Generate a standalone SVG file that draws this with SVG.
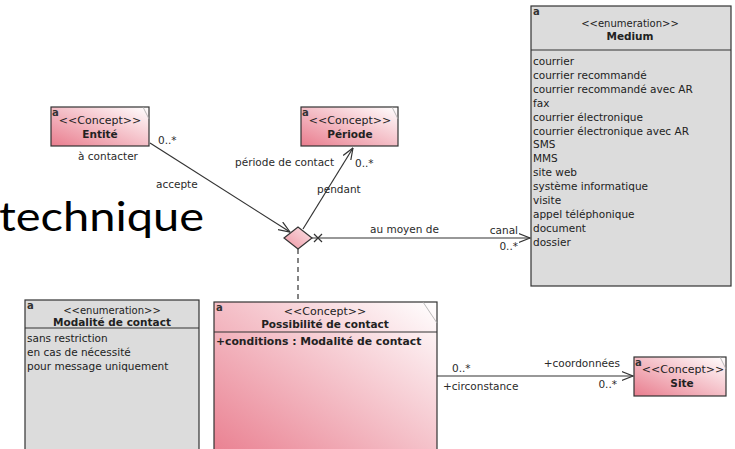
<svg xmlns="http://www.w3.org/2000/svg" width="735" height="449" viewBox="0 0 735 449">
  <defs>
    <linearGradient id="concept" x1="0" y1="1" x2="1" y2="0">
      <stop offset="0" stop-color="#e97d8e"/>
      <stop offset="1" stop-color="#ffffff"/>
    </linearGradient>
    <linearGradient id="diamondFill" x1="0" y1="1" x2="1" y2="0">
      <stop offset="0" stop-color="#ee95a2"/>
      <stop offset="1" stop-color="#fbe3e7"/>
    </linearGradient>
    <marker id="open" viewBox="0 0 12 10" refX="11.5" refY="5" markerWidth="12" markerHeight="10" markerUnits="userSpaceOnUse" orient="auto">
      <path d="M0,0.5 L11.5,5 L0,9.5" fill="none" stroke="#333" stroke-width="1.2"/>
    </marker>
    <style>
      text { font-family: "DejaVu Sans", "Liberation Sans", sans-serif; fill: #222; }
      .box { stroke: #333; stroke-width: 1.2; }
      .concept { fill: url(#concept); }
      .enum { fill: #dcdcdc; }
      .fold { stroke: #aaa; stroke-width: 0.8; fill: none; }
      .sep { stroke: #333; stroke-width: 1.2; }
      .icon { font-size: 10px; font-weight: bold; fill: #333; }
      .stereo { font-size: 11px; text-anchor: middle; }
      .stereoE { font-size: 10px; text-anchor: middle; }
      .name { font-size: 10.5px; font-weight: bold; text-anchor: middle; }
      .item { font-size: 10.5px; }
      .attr { font-size: 10.8px; font-weight: bold; }
      .lbl { font-size: 10.5px; fill: #2a2a2a; }
      .mid { text-anchor: middle; }
      .end { text-anchor: end; }
      .conn { stroke: #333; stroke-width: 1.2; fill: none; }
      .slide { font-family: Lato, "Open Sans", sans-serif; font-size: 40px; fill: #000; }
    </style>
  </defs>

  <rect width="735" height="449" fill="#ffffff"/>

  <!-- slide text behind the model -->
  <text class="slide" x="-1" y="231" textLength="205" lengthAdjust="spacingAndGlyphs">technique</text>

  <!-- connectors -->
  <g id="connectors">
    <line class="conn" x1="150" y1="143" x2="290" y2="232" marker-end="url(#open)"/>
    <line class="conn" x1="303" y1="229" x2="353" y2="148" marker-end="url(#open)"/>
    <line class="conn" x1="312" y1="238" x2="530" y2="238" marker-end="url(#open)"/>
    <path class="conn" d="M314,234 L322,242 M314,242 L322,234"/>
    <line class="conn" x1="298" y1="249" x2="298" y2="302" stroke-dasharray="5,4"/>
    <line class="conn" x1="437" y1="376" x2="633" y2="376" marker-end="url(#open)"/>

    <text class="lbl mid" x="108" y="160">à contacter</text>
    <text class="lbl" x="158" y="144">0..*</text>
    <text class="lbl" x="156" y="188">accepte</text>
    <text class="lbl" x="235" y="166">période de contact</text>
    <text class="lbl" x="355" y="167">0..*</text>
    <text class="lbl" x="317" y="193">pendant</text>
    <text class="lbl" x="370" y="233">au moyen de</text>
    <text class="lbl end" x="518" y="234">canal</text>
    <text class="lbl end" x="518" y="250">0..*</text>
    <text class="lbl" x="452" y="372">0..*</text>
    <text class="lbl" x="443" y="390">+circonstance</text>
    <text class="lbl end" x="620" y="367">+coordonnées</text>
    <text class="lbl end" x="617" y="388">0..*</text>
  </g>

  <!-- association diamond -->
  <g id="association">
    <polygon points="284,238 298,227 312,238 298,249" fill="url(#diamondFill)" stroke="#333" stroke-width="1.2"/>
  </g>

  <g id="entite">
    <rect class="box concept" x="51" y="107" width="98" height="39"/>
    <line class="fold" x1="143" y1="107" x2="149" y2="119"/>
    <text class="icon" x="52" y="116">a</text>
    <text class="stereo" x="100" y="124">&lt;&lt;Concept&gt;&gt;</text>
    <text class="name" x="100" y="138">Entité</text>
  </g>

  <g id="periode">
    <rect class="box concept" x="301" y="107" width="97" height="39"/>
    <line class="fold" x1="392" y1="107" x2="398" y2="119"/>
    <text class="icon" x="302" y="116">a</text>
    <text class="stereo" x="350" y="124">&lt;&lt;Concept&gt;&gt;</text>
    <text class="name" x="350" y="138">Période</text>
  </g>

  <g id="medium">
    <rect class="box enum" x="531" y="6" width="200" height="280"/>
    <line class="sep" x1="531" y1="50" x2="731" y2="50"/>
    <text class="icon" x="533" y="15">a</text>
    <text class="stereoE" x="630" y="27">&lt;&lt;enumeration&gt;&gt;</text>
    <text class="name" x="630" y="40">Medium</text>
    <text class="item" x="533" y="65">courrier</text>
    <text class="item" x="533" y="78.9">courrier recommandé</text>
    <text class="item" x="533" y="92.8">courrier recommandé avec AR</text>
    <text class="item" x="533" y="106.7">fax</text>
    <text class="item" x="533" y="120.6">courrier électronique</text>
    <text class="item" x="533" y="134.5">courrier électronique avec AR</text>
    <text class="item" x="533" y="148.4">SMS</text>
    <text class="item" x="533" y="162.3">MMS</text>
    <text class="item" x="533" y="176.2">site web</text>
    <text class="item" x="533" y="190.1">système informatique</text>
    <text class="item" x="533" y="204">visite</text>
    <text class="item" x="533" y="217.9">appel téléphonique</text>
    <text class="item" x="533" y="231.8">document</text>
    <text class="item" x="533" y="245.7">dossier</text>
  </g>

  <g id="modalite">
    <rect class="box enum" x="25" y="300" width="174" height="160"/>
    <line class="sep" x1="25" y1="328" x2="199" y2="328"/>
    <text class="icon" x="27" y="309">a</text>
    <text class="stereoE" x="112" y="314">&lt;&lt;enumeration&gt;&gt;</text>
    <text class="name" x="112" y="326">Modalité de contact</text>
    <text class="item" x="27" y="342">sans restriction</text>
    <text class="item" x="27" y="356">en cas de nécessité</text>
    <text class="item" x="27" y="370">pour message uniquement</text>
  </g>

  <g id="possibilite">
    <rect class="box concept" x="214" y="302" width="223" height="160"/>
    <line class="fold" x1="423" y1="302" x2="437" y2="323"/>
    <line class="sep" x1="214" y1="332" x2="437" y2="332"/>
    <text class="icon" x="216" y="311">a</text>
    <text class="stereo" x="325" y="315">&lt;&lt;Concept&gt;&gt;</text>
    <text class="name" x="325" y="328">Possibilité de contact</text>
    <text class="attr" x="216" y="345">+conditions : Modalité de contact</text>
  </g>

  <g id="site">
    <rect class="box concept" x="634" y="357" width="92" height="39"/>
    <line class="fold" x1="720" y1="357" x2="726" y2="369"/>
    <text class="icon" x="635" y="366">a</text>
    <text class="stereo" x="683" y="373">&lt;&lt;Concept&gt;&gt;</text>
    <text class="name" x="682" y="387">Site</text>
  </g>
</svg>
